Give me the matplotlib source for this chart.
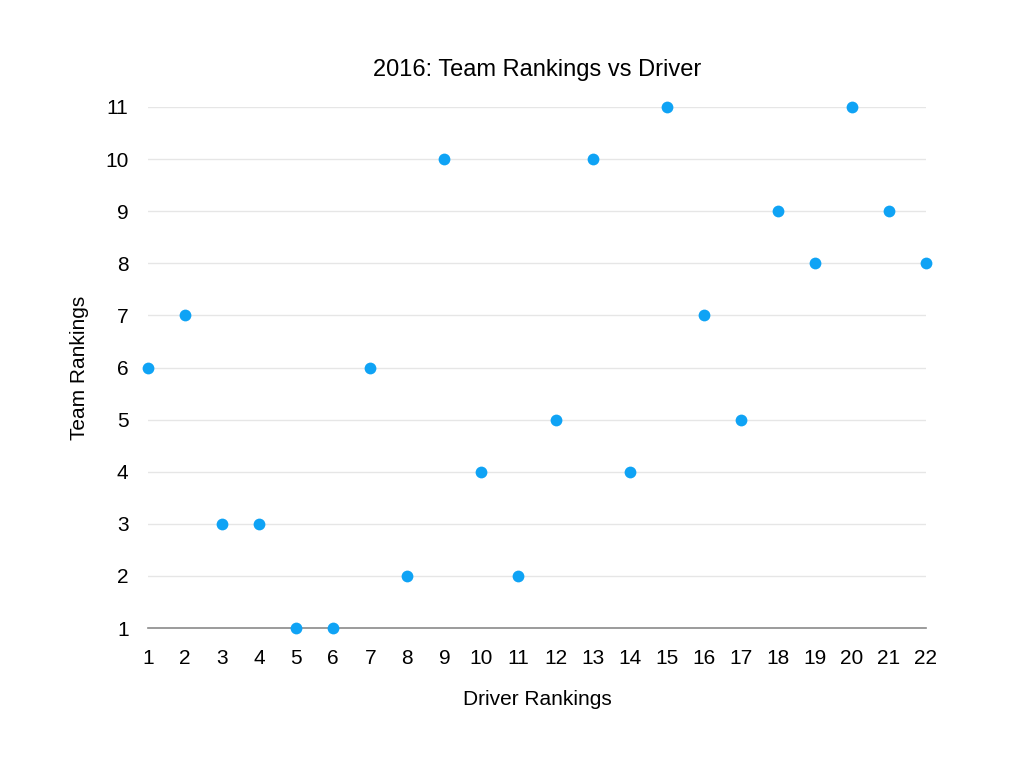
import matplotlib.pyplot as plt

driver_rank = list(range(1, 23))
team_rank = [6, 7, 3, 3, 1, 1, 6, 2, 10, 4, 2, 5, 10, 4, 11, 7, 5, 9, 8, 11, 9, 8]

plt.rcParams['font.family'] = ['Liberation Sans', 'DejaVu Sans']

fig = plt.figure(figsize=(10.24, 7.57), dpi=100)
ax = fig.add_axes([148 / 1024, 1 - 628 / 757, (926 - 148) / 1024, (628 - 107) / 757])

ax.scatter(driver_rank, team_rank, s=72, color='#0fa3f5', zorder=3, clip_on=False, linewidths=0)

ax.set_xlim(1, 22)
ax.set_ylim(1, 11)
ax.set_xticks(driver_rank)
ax.set_yticks(range(1, 12))
for y in range(2, 12):
    ax.axhline(y, color='#e6e6e6', lw=1, zorder=1)

for side in ['top', 'right', 'left']:
    ax.spines[side].set_visible(False)
ax.spines['bottom'].set_color('#8a8a8a')
ax.spines['bottom'].set_linewidth(1.2)
ax.tick_params(length=0, labelsize=15)
ax.tick_params(axis='x', pad=15)
ax.tick_params(axis='y', pad=14)

ax.set_title('2016: Team Rankings vs Driver', fontsize=17, pad=22)
ax.set_xlabel('Driver Rankings', fontsize=15, labelpad=16)
ax.set_ylabel('Team Rankings', fontsize=15, labelpad=12)

fig.savefig('out.png', dpi=100)
